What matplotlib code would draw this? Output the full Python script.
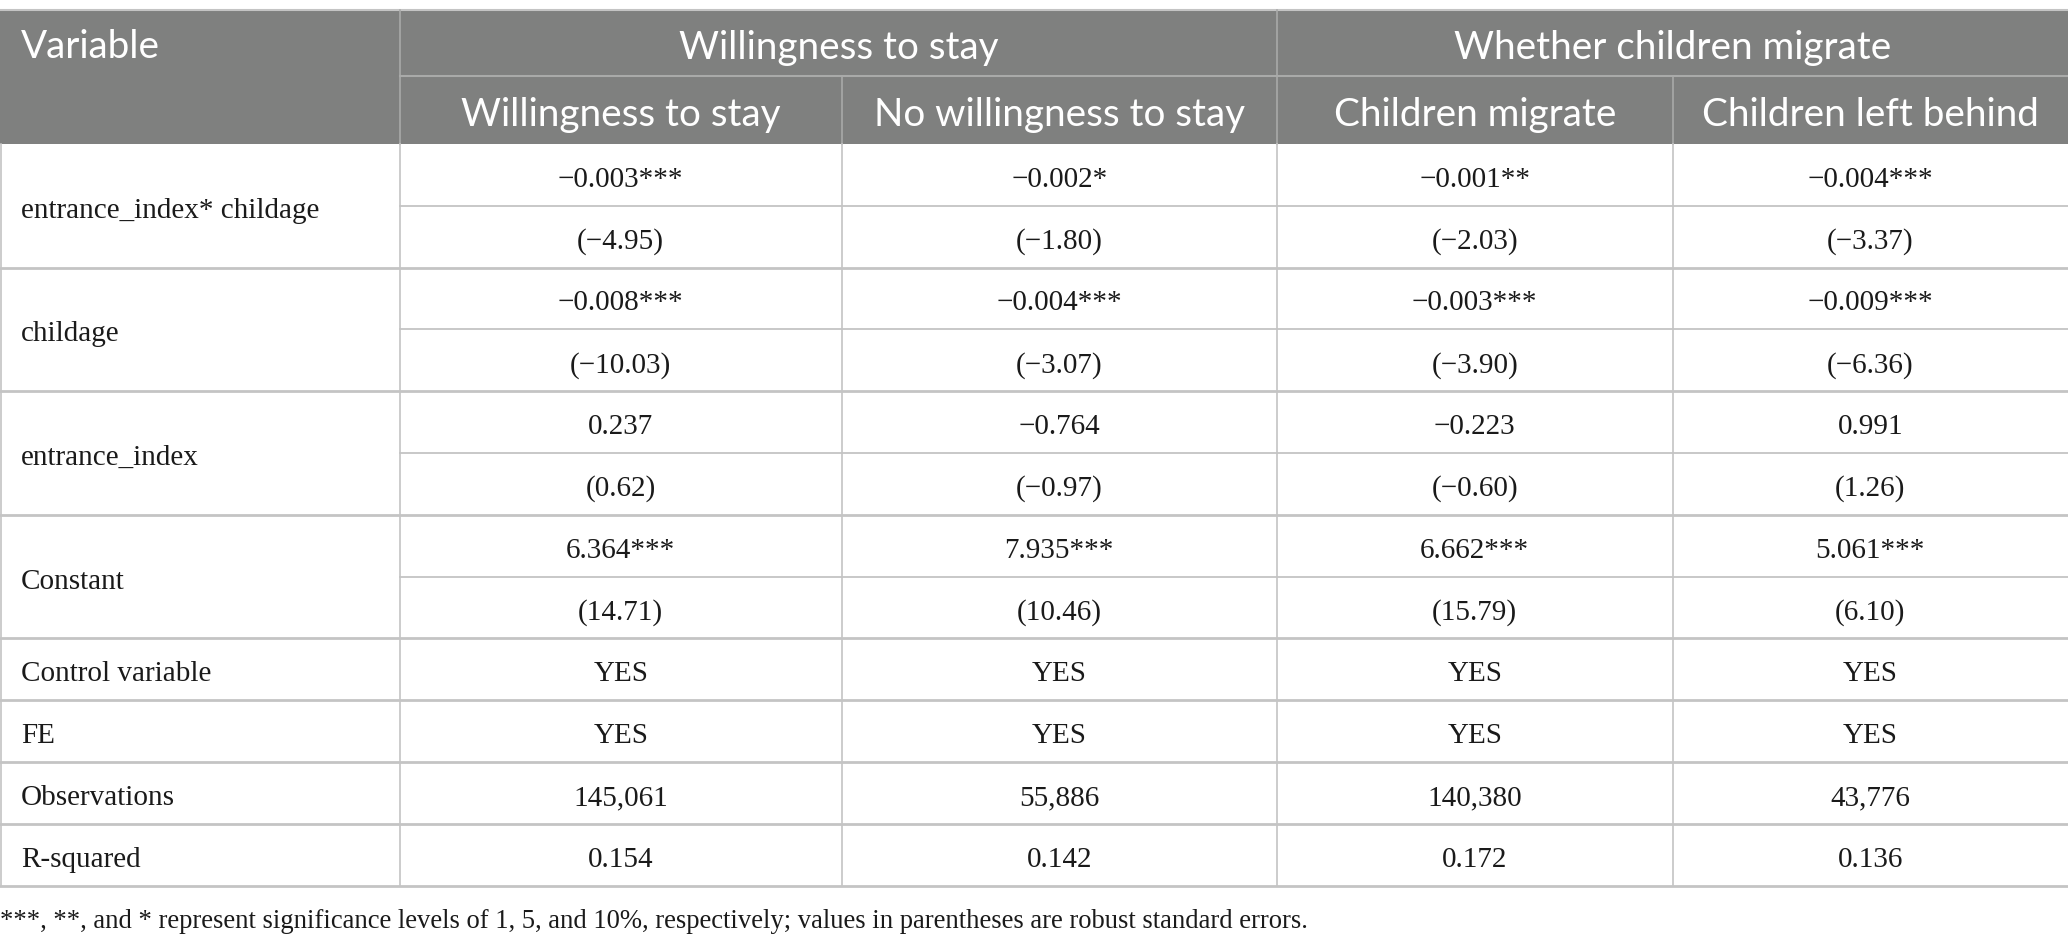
import matplotlib
matplotlib.use("Agg")
import matplotlib.pyplot as plt
from matplotlib.patches import Rectangle

# ---------------- data ----------------
group_headers = ["Willingness to stay", "Whether children migrate"]
sub_headers = ["Willingness to stay", "No willingness to stay",
               "Children migrate", "Children left behind"]
variables = ["entrance_index* childage", "childage", "entrance_index", "Constant"]
coef = [
    ["\u22120.003***", "\u22120.002*", "\u22120.001**", "\u22120.004***"],
    ["\u22120.008***", "\u22120.004***", "\u22120.003***", "\u22120.009***"],
    ["0.237", "\u22120.764", "\u22120.223", "0.991"],
    ["6.364***", "7.935***", "6.662***", "5.061***"],
]
tstat = [
    ["(\u22124.95)", "(\u22121.80)", "(\u22122.03)", "(\u22123.37)"],
    ["(\u221210.03)", "(\u22123.07)", "(\u22123.90)", "(\u22126.36)"],
    ["(0.62)", "(\u22120.97)", "(\u22120.60)", "(1.26)"],
    ["(14.71)", "(10.46)", "(15.79)", "(6.10)"],
]
extra_rows = ["Control variable", "FE", "Observations", "R-squared"]
extra_vals = [
    ["YES", "YES", "YES", "YES"],
    ["YES", "YES", "YES", "YES"],
    ["145,061", "55,886", "140,380", "43,776"],
    ["0.154", "0.142", "0.172", "0.136"],
]
footnote = ("***, **, and * represent significance levels of 1, 5, and 10%, "
            "respectively; values in parentheses are robust standard errors.")

# ---------------- layout ----------------
W, H = 2068, 945
col_x = [0, 400, 841.5, 1277, 1672.5, 2068]
top, hmid, hbot = 10.5, 76.5, 145.0
row_h = 61.8
HEAD_BG = "#7f807f"
HEAD_LINE = "#a9aaa9"
GRID = "#c4c4c4"
TXT = "#1a1a1a"
SANS = ["Lato", "DejaVu Sans"]
SERIF = ["Liberation Serif", "DejaVu Serif"]
BODY_DY = 4.0
HEAD_DY = 4.0

fig = plt.figure(figsize=(W / 100, H / 100), dpi=100)
ax = fig.add_axes([0, 0, 1, 1])
ax.set_xlim(0, W)
ax.set_ylim(H, 0)
ax.axis("off")
renderer = fig.canvas.get_renderer()


def fit_size(text, family, target_px):
    t = ax.text(0, 0, text, fontsize=20, family=family)
    w = t.get_window_extent(renderer=renderer).width
    t.remove()
    return 20 * target_px / w


hsize = fit_size("Willingness to stay", SANS, 319)
bsize = fit_size("entrance_index* childage", SERIF, 298)
fsize = fit_size(footnote, SERIF, 1308)

# header background
ax.add_patch(Rectangle((0, top), W, hbot - top, facecolor=HEAD_BG,
                       edgecolor="none", zorder=1))
ax.plot([0, W], [top, top], color=GRID, lw=1.5, zorder=2)
ax.plot([col_x[1], W], [hmid, hmid], color=HEAD_LINE, lw=1.5, zorder=2)
for x in (col_x[1], col_x[3]):
    ax.plot([x, x], [top, hbot], color=HEAD_LINE, lw=1.2, zorder=2)
for x in (col_x[2], col_x[4]):
    ax.plot([x, x], [hmid, hbot], color=HEAD_LINE, lw=1.2, zorder=2)

# header text
ax.text(21, (top + hmid) / 2 + HEAD_DY, "Variable", color="white",
        fontsize=hsize, family=SANS, ha="left", va="center", zorder=3)
for g, txt in enumerate(group_headers):
    cx = (col_x[1 + 2 * g] + col_x[3 + 2 * g]) / 2
    ax.text(cx, (top + hmid) / 2 + HEAD_DY, txt, color="white", fontsize=hsize,
            family=SANS, ha="center", va="center", zorder=3)
for j, txt in enumerate(sub_headers):
    cx = (col_x[1 + j] + col_x[2 + j]) / 2
    ax.text(cx, (hmid + hbot) / 2 + HEAD_DY, txt, color="white",
            fontsize=hsize, family=SANS, ha="center", va="center", zorder=3)

# body
y = hbot
for i, var in enumerate(variables):
    y0 = y
    y1 = y0 + row_h
    y2 = y1 + row_h
    ax.text(21, (y0 + y2) / 2 + BODY_DY, var, color=TXT, fontsize=bsize,
            family=SERIF, ha="left", va="center")
    for j in range(4):
        cx = (col_x[1 + j] + col_x[2 + j]) / 2
        ax.text(cx, (y0 + y1) / 2 + BODY_DY, coef[i][j], color=TXT,
                fontsize=bsize, family=SERIF, ha="center", va="center")
        ax.text(cx, (y1 + y2) / 2 + BODY_DY, tstat[i][j], color=TXT,
                fontsize=bsize, family=SERIF, ha="center", va="center")
    ax.plot([col_x[1], W], [y1, y1], color=GRID, lw=1.3)
    ax.plot([0, W], [y2, y2], color=GRID, lw=2.0)
    y = y2

for i, var in enumerate(extra_rows):
    y0 = y
    y1 = y0 + row_h
    ax.text(21, (y0 + y1) / 2 + BODY_DY, var, color=TXT, fontsize=bsize,
            family=SERIF, ha="left", va="center")
    for j in range(4):
        cx = (col_x[1 + j] + col_x[2 + j]) / 2
        ax.text(cx, (y0 + y1) / 2 + BODY_DY, extra_vals[i][j], color=TXT,
                fontsize=bsize, family=SERIF, ha="center", va="center")
    ax.plot([0, W], [y1, y1], color=GRID, lw=2.0)
    y = y1

bottom = y
for x in col_x[:-1]:
    xx = x + (0.8 if x == 0 else 0)
    ax.plot([xx, xx], [hbot, bottom], color=GRID, lw=1.2)

ax.text(0, 921, footnote, color=TXT, fontsize=fsize, family=SERIF,
        ha="left", va="center")

fig.savefig("out.png", dpi=100)
